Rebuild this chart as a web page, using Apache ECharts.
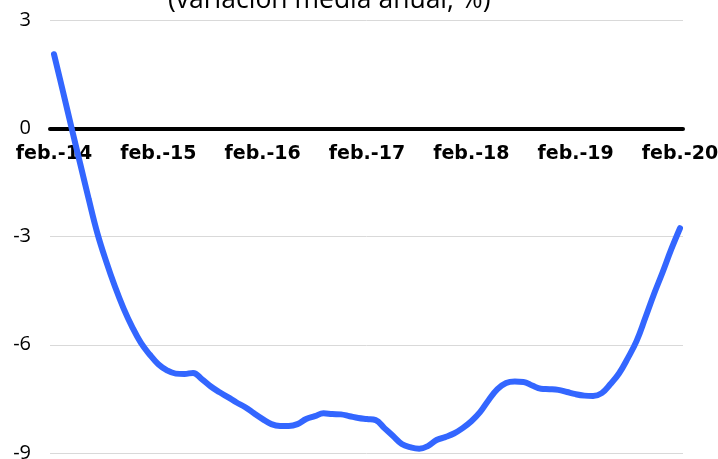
<!DOCTYPE html>
<html>
<head>
<meta charset="utf-8">
<script src="https://cdn.jsdelivr.net/npm/echarts@6/dist/echarts.min.js"></script>
<style>html,body{margin:0;padding:0;background:#fff}#c{width:718px;height:459px}</style>
</head>
<body>
<div id="c"></div>
<script>
var monthNames = ['ene.','feb.','mar.','abr.','may.','jun.','jul.','ago.','sep.','oct.','nov.','dic.'];
var startYear = 14;
var categories = [];
for (var k = 0; k < 73; k++) {
  var m = (1 + k) % 12;
  var y = startYear + Math.floor((1 + k) / 12);
  categories.push(monthNames[m] + '-' + y);
}
var values = [
  2.05, 1.05, 0.03, -0.97, -1.97, -2.92, -3.69, -4.38, -4.99, -5.51, -5.95, -6.27,
  -6.54, -6.71, -6.8, -6.81, -6.78, -6.95, -7.15, -7.31, -7.45, -7.6, -7.73, -7.9,
  -8.06, -8.2, -8.25, -8.25, -8.2, -8.06, -7.98, -7.9, -7.92, -7.93, -7.98, -8.03,
  -8.06, -8.09, -8.31, -8.53, -8.75, -8.84, -8.88, -8.81, -8.64, -8.56, -8.46, -8.31,
  -8.12, -7.87, -7.53, -7.23, -7.06, -7.02, -7.03, -7.13, -7.22, -7.23, -7.25, -7.31,
  -7.37, -7.41, -7.42, -7.34, -7.09, -6.79, -6.37, -5.9, -5.26, -4.6, -3.99, -3.35,
  -2.77
];
var yTicks = {min: -9, max: 3, interval: 3};
var titleText = '(variación media anual, %)';

var TOP = 20, BOTTOM = 6, H = 459 - TOP - BOTTOM;
var zeroOffset = H * (yTicks.max - 0) / (yTicks.max - yTicks.min);

var chart = echarts.init(document.getElementById('c'));
chart.setOption({
  animation: false,
  graphic: [{
    type: 'text', left: 168, top: -13,
    style: {text: titleText, font: '26.5px "Open Sans"', fill: '#000'}
  }],
  grid: [
    {left: 50, right: 35, top: TOP, bottom: BOTTOM, containLabel: false, outerBoundsMode: 'none'},
    {left: 54, right: 38, top: TOP, bottom: BOTTOM, containLabel: false, outerBoundsMode: 'none'},
    {left: 54, right: 38, top: TOP, height: zeroOffset, containLabel: false, outerBoundsMode: 'none'}
  ],
  xAxis: [
    {type: 'value', gridIndex: 0, min: 0, max: 1,
     axisLine: {show: true, onZero: true, lineStyle: {color: '#000', width: 4}},
     axisTick: {show: false}, axisLabel: {show: false}, splitLine: {show: false}},
    {type: 'category', gridIndex: 1, data: categories, boundaryGap: false, show: false},
    {type: 'category', gridIndex: 2, data: categories, boundaryGap: false, position: 'bottom',
     axisLine: {show: false, onZero: false},
     axisTick: {show: false},
     axisLabel: {interval: 11, margin: 16, fontFamily: 'DejaVu Sans', fontWeight: 'bold', fontSize: 19, color: '#000'},
     splitLine: {show: false}}
  ],
  yAxis: [
    {type: 'value', gridIndex: 0, min: yTicks.min, max: yTicks.max, interval: yTicks.interval,
     axisLine: {show: false}, axisTick: {show: false},
     axisLabel: {margin: 19, fontFamily: 'Open Sans', fontSize: 20, color: '#000'},
     splitLine: {show: true, lineStyle: {color: '#d9d9d9', width: 1}}},
    {type: 'value', gridIndex: 1, min: yTicks.min, max: yTicks.max, interval: yTicks.interval, show: false},
    {type: 'value', gridIndex: 2, min: 0, max: 1, show: false}
  ],
  series: [{
    type: 'line', xAxisIndex: 1, yAxisIndex: 1, data: values,
    smooth: 0.4, showSymbol: false,
    lineStyle: {color: '#3366ff', width: 6, cap: 'round'}
  }]
});
</script>
</body>
</html>
